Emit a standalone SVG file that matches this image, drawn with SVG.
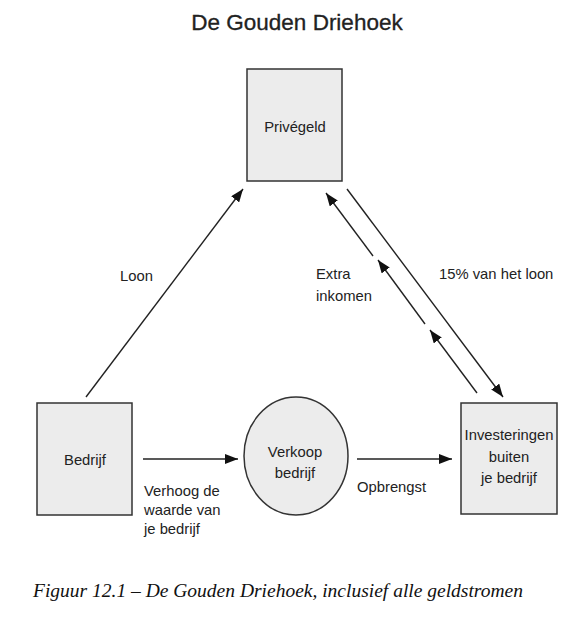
<svg xmlns="http://www.w3.org/2000/svg" width="587" height="618" viewBox="0 0 587 618">
<style>
.bg{fill:#ffffff}
.node{fill:#ececec;stroke:#333;stroke-width:1.5}
.lbl{font-family:"Liberation Sans",Arial,sans-serif;font-size:14.8px;fill:#222}
.ctr{text-anchor:middle}
.title{font-family:"Liberation Sans",Arial,sans-serif;font-size:22.5px;fill:#222;text-anchor:middle;stroke:#222;stroke-width:0.3}
.cap{font-family:"Liberation Serif","Times New Roman",serif;font-style:italic;font-size:19.5px;fill:#111}
.conn line{stroke:#222;stroke-width:1.4;marker-end:url(#ah)}
</style>
<defs>
<marker id="ah" markerUnits="userSpaceOnUse" markerWidth="13" markerHeight="10" refX="13" refY="5" orient="auto">
<path d="M0,0 L13,5 L0,10 z" fill="#111"/>
</marker>
</defs>
<rect class="bg" x="0" y="0" width="587" height="618"/>
<text class="title" x="297" y="30">De Gouden Driehoek</text>

<g id="prive">
<rect class="node" x="247" y="69" width="95" height="112"/>
<text class="lbl ctr" x="295" y="132">Privégeld</text>
</g>
<g id="bedrijf">
<rect class="node" x="37" y="403" width="95" height="112"/>
<text class="lbl ctr" x="85" y="465">Bedrijf</text>
</g>
<g id="verkoop">
<ellipse class="node" cx="296" cy="456" rx="52" ry="59"/>
<text class="lbl ctr" x="295" y="457">Verkoop</text>
<text class="lbl ctr" x="295" y="478">bedrijf</text>
</g>
<g id="investeringen">
<rect class="node" x="461" y="403" width="96" height="111"/>
<text class="lbl ctr" x="509" y="440">Investeringen</text>
<text class="lbl ctr" x="509" y="462">buiten</text>
<text class="lbl ctr" x="509" y="483">je bedrijf</text>
</g>

<g id="connectors" class="conn">
<line x1="86" y1="397" x2="243" y2="189"/>
<line x1="143" y1="459" x2="238" y2="459"/>
<line x1="357" y1="459" x2="452" y2="459"/>
<line x1="347" y1="189" x2="503" y2="397"/>
<line x1="373" y1="256" x2="326" y2="193"/>
<line x1="425" y1="324" x2="378" y2="260"/>
<line x1="477" y1="393" x2="430" y2="330"/>
</g>

<g id="labels">
<text class="lbl" x="120" y="281">Loon</text>
<text class="lbl" x="316" y="279">Extra</text>
<text class="lbl" x="316" y="301">inkomen</text>
<text class="lbl" x="439" y="279">15% van het loon</text>
<text class="lbl" x="144" y="496">Verhoog de</text>
<text class="lbl" x="144" y="515">waarde van</text>
<text class="lbl" x="144" y="534">je bedrijf</text>
<text class="lbl" x="357" y="492">Opbrengst</text>
</g>

<text class="cap" x="33" y="597">Figuur 12.1 – De Gouden Driehoek, inclusief alle geldstromen</text>
</svg>
